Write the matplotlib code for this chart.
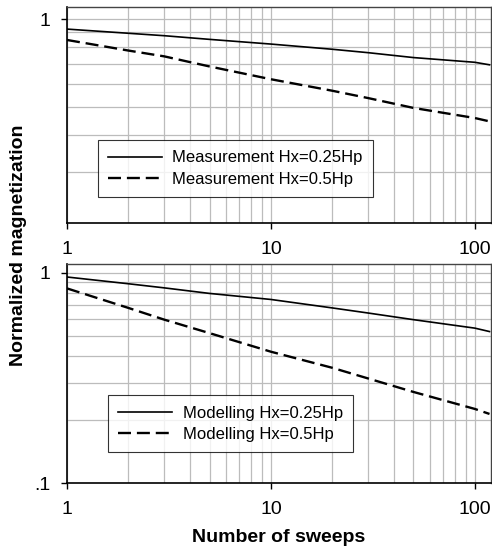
import matplotlib
matplotlib.use("Agg")
import matplotlib.pyplot as plt
from matplotlib.ticker import FixedLocator, FixedFormatter, LogLocator, NullFormatter

plt.rcParams['font.family'] = ['Liberation Sans', 'DejaVu Sans']

# ---- data ----
x_meas = [1, 2, 3, 5, 10, 20, 30, 50, 100, 118]
meas_025 = [0.924, 0.894, 0.877, 0.852, 0.821, 0.788, 0.767, 0.738, 0.711, 0.697]
meas_05 = [0.848, 0.780, 0.745, 0.688, 0.622, 0.568, 0.536, 0.496, 0.458, 0.446]

x_mod = [1, 2, 3, 5, 10, 20, 30, 50, 100, 118]
mod_025 = [0.954, 0.886, 0.847, 0.797, 0.746, 0.680, 0.643, 0.598, 0.545, 0.525]
mod_05 = [0.842, 0.680, 0.598, 0.516, 0.421, 0.353, 0.314, 0.271, 0.225, 0.213]

labels_top = ["Measurement Hx=0.25Hp", "Measurement Hx=0.5Hp"]
labels_bot = ["Modelling Hx=0.25Hp", "Modelling Hx=0.5Hp"]

x_ticks = [1, 10, 100]
x_ticklabels = ["1", "10", "100"]
top_yticks = [1]
top_yticklabels = ["1"]
bot_yticks = [0.1, 1]
bot_yticklabels = [".1", "1"]

xlim = (1, 120)
top_ylim = (0.2, 1.1)
bot_ylim = (0.1, 1.1)

W, H = 492, 549
fig = plt.figure(figsize=(W / 100, H / 100), dpi=100)

def box(l, t, r, b):
    return [l / W, 1 - b / H, (r - l) / W, (b - t) / H]

ax1 = fig.add_axes(box(67, 7, 491, 223))
ax2 = fig.add_axes(box(67, 264, 491, 483))

grid_col = '#bcbcbc'
TICKFS = 14

def style(ax, ylim, yticks, yticklabels):
    ax.set_xscale('log')
    ax.set_yscale('log')
    ax.set_xlim(*xlim)
    ax.set_ylim(*ylim)
    ax.xaxis.set_major_locator(FixedLocator(x_ticks))
    ax.xaxis.set_major_formatter(FixedFormatter(x_ticklabels))
    ax.xaxis.set_minor_locator(LogLocator(base=10, subs=range(2, 10)))
    ax.xaxis.set_minor_formatter(NullFormatter())
    ax.yaxis.set_major_locator(FixedLocator(yticks))
    ax.yaxis.set_major_formatter(FixedFormatter(yticklabels))
    ax.yaxis.set_minor_locator(LogLocator(base=10, subs=range(2, 10)))
    ax.yaxis.set_minor_formatter(NullFormatter())
    ax.grid(True, which='both', color=grid_col, linewidth=0.9)
    ax.set_axisbelow(True)
    ax.tick_params(which='major', direction='out', length=4, width=1.0,
                   labelsize=TICKFS, color='black')
    ax.tick_params(axis='x', which='major', pad=9)
    ax.tick_params(axis='y', which='major', pad=8)
    ax.tick_params(which='minor', length=0)
    for s in ['left', 'bottom']:
        ax.spines[s].set_color('black')
        ax.spines[s].set_linewidth(1.2)
    for s in ['top', 'right']:
        ax.spines[s].set_color('#444444')
        ax.spines[s].set_linewidth(1.0)

style(ax1, top_ylim, top_yticks, top_yticklabels)
style(ax2, bot_ylim, bot_yticks, bot_yticklabels)

dash = (5.5, 2.5)
ax1.plot(x_meas, meas_025, color='black', lw=1.2, label=labels_top[0])
ax1.plot(x_meas, meas_05, color='black', lw=1.7, dashes=dash, label=labels_top[1])
ax2.plot(x_mod, mod_025, color='black', lw=1.2, label=labels_bot[0])
ax2.plot(x_mod, mod_05, color='black', lw=1.7, dashes=dash, label=labels_bot[1])

for ax, anchor in [(ax1, (0.073, 0.12)), (ax2, (0.097, 0.14))]:
    leg = ax.legend(loc='lower left', bbox_to_anchor=anchor, fontsize=12,
                    frameon=True, fancybox=False, handlelength=3.2,
                    handletextpad=0.65, borderpad=0.62, labelspacing=0.38,
                    borderaxespad=0)
    leg.get_frame().set_edgecolor('black')
    leg.get_frame().set_linewidth(0.8)

fig.text(279 / W, 1 - 537 / H, "Number of sweeps", ha='center', va='center',
         fontsize=14, fontweight='bold')
fig.text(19 / W, 1 - 245 / H, "Normalized magnetization", ha='center', va='center',
         rotation=90, fontsize=14, fontweight='bold')

fig.savefig("out.png", dpi=100)
